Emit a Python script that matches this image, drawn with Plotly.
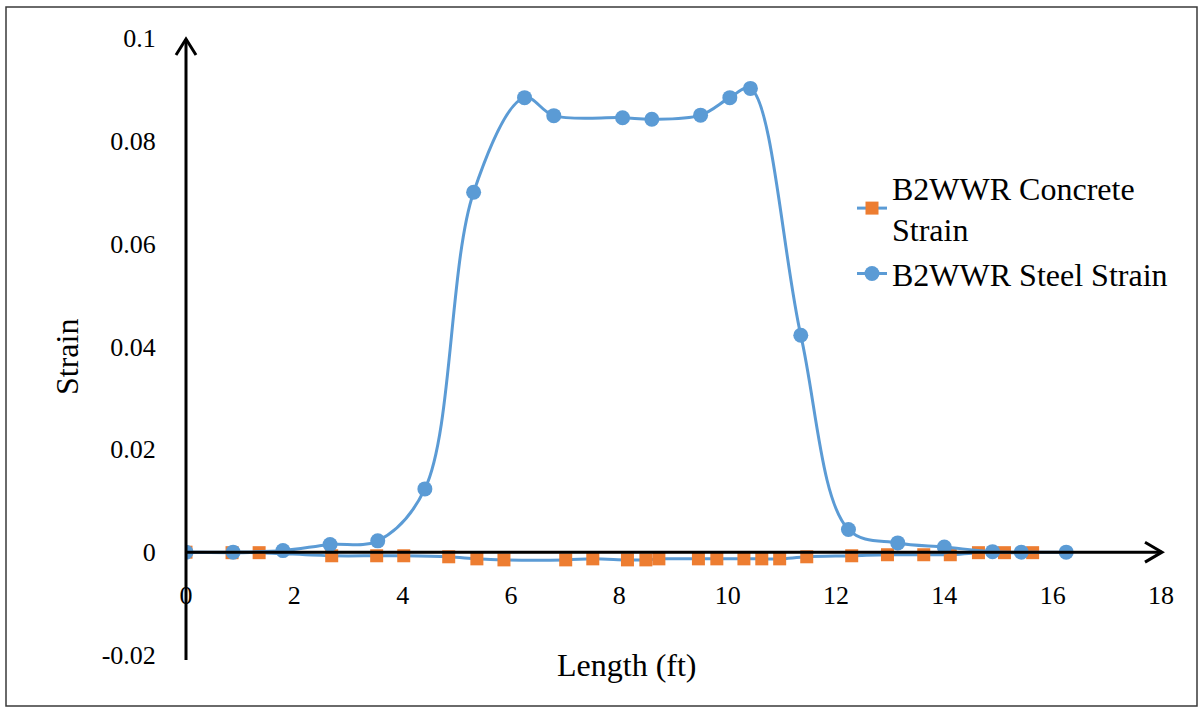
import plotly.graph_objects as go

# Concrete strain readings along the beam
concrete_x = [0, 0.85, 1.35, 2.69, 3.52, 4.02, 4.85, 5.37, 5.87, 7.01, 7.51, 8.15, 8.49, 8.73,
              9.46, 9.80, 10.30, 10.63, 10.96, 11.46, 12.29, 12.95, 13.62, 14.11, 14.63, 15.11, 15.63]
concrete_y = [0, -0.0001, -0.0001, -0.0007, -0.0007, -0.0007, -0.0009, -0.0013, -0.0015, -0.0015,
              -0.0013, -0.0015, -0.0015, -0.0013, -0.0013, -0.0013, -0.0013, -0.0013, -0.0013,
              -0.0009, -0.0007, -0.0005, -0.0005, -0.0005, -0.0001, -0.0001, -0.0001]

# Steel strain readings along the beam
steel_x = [0, 0.87, 1.79, 2.66, 3.54, 4.41, 5.31, 6.25, 6.79, 8.06, 8.60, 9.50, 10.04, 10.42,
           11.35, 12.23, 13.14, 14.00, 14.89, 15.42, 16.25]
steel_y = [0, 0, 0.0003, 0.0015, 0.0022, 0.0123, 0.0700, 0.0884, 0.0849, 0.0845, 0.0842, 0.0850,
           0.0884, 0.0902, 0.0422, 0.0044, 0.0018, 0.0010, 0.0001, 0, 0]

x_ticks = [0, 2, 4, 6, 8, 10, 12, 14, 16, 18]
y_ticks = [-0.02, 0, 0.02, 0.04, 0.06, 0.08, 0.1]
y_ticktext = ["-0.02", "0", "0.02", "0.04", "0.06", "0.08", "0.1"]

X_RANGE = [0, 18]
Y_RANGE = [-0.02, 0.1]

BLUE = "#5B9BD5"
ORANGE = "#ED7D31"
FONT = "Liberation Serif"

W, H = 1203, 710
ML, MR, MT, MB = 186, 42, 38, 55
PW, PH = W - ML - MR, H - MT - MB


def px_x(p):
    return (p - ML) / PW


def px_y(p):
    return (H - MB - p) / PH


def data_y(v):
    return (v - Y_RANGE[0]) / (Y_RANGE[1] - Y_RANGE[0])


def chevron(tip_px, arm_a_px, arm_b_px):
    pts = [arm_a_px, tip_px, arm_b_px]
    coords = [f"{px_x(px):.5f},{px_y(py):.5f}" for px, py in pts]
    return "M " + " L ".join(coords)


fig = go.Figure()

fig.add_trace(go.Scatter(
    x=concrete_x, y=concrete_y, mode="lines+markers",
    name="B2WWR Concrete<br>Strain",
    line=dict(color=BLUE, width=3, shape="spline", smoothing=1),
    marker=dict(symbol="square", size=13, color=ORANGE),
))
fig.add_trace(go.Scatter(
    x=steel_x, y=steel_y, mode="lines+markers",
    name="B2WWR Steel Strain",
    line=dict(color=BLUE, width=3, shape="spline", smoothing=1),
    marker=dict(symbol="circle", size=15, color=BLUE),
))

zero_y = data_y(0)
zero_px = H - MB - zero_y * PH
shapes = [
    # outer frame
    dict(type="rect", xref="paper", yref="paper",
         x0=px_x(6), x1=px_x(1197), y0=px_y(706), y1=px_y(7),
         line=dict(color="#3a3a3a", width=1.5), layer="below"),
    # vertical axis
    dict(type="line", xref="paper", yref="paper", x0=0, x1=0,
         y0=px_y(660), y1=px_y(39), line=dict(color="black", width=3)),
    # horizontal axis at zero strain
    dict(type="line", xref="paper", yref="paper", x0=0, x1=px_x(1162),
         y0=zero_y, y1=zero_y, line=dict(color="black", width=3)),
    # arrow heads
    dict(type="path", xref="paper", yref="paper",
         path=chevron((ML, 39), (ML - 10, 55), (ML + 10, 55)),
         line=dict(color="black", width=3)),
    dict(type="path", xref="paper", yref="paper",
         path=chevron((1162, zero_px), (1145, zero_px - 10), (1145, zero_px + 10)),
         line=dict(color="black", width=3)),
]

annotations = [
    dict(text="Length (ft)", xref="paper", yref="paper", x=px_x(627), y=px_y(685),
         showarrow=False, font=dict(family=FONT, size=32, color="black")),
    dict(text="Strain", xref="paper", yref="paper", x=px_x(47), y=px_y(357),
         textangle=-90, showarrow=False, font=dict(family=FONT, size=32, color="black")),
]

fig.update_layout(
    template="none",
    width=W, height=H,
    margin=dict(l=ML, r=MR, t=MT, b=MB),
    paper_bgcolor="white", plot_bgcolor="white",
    font=dict(family=FONT, color="black"),
    shapes=shapes, annotations=annotations,
    showlegend=True,
    legend=dict(x=px_x(852), y=px_y(160), xanchor="left", yanchor="top",
                font=dict(family=FONT, size=32, color="black"),
                bgcolor="rgba(0,0,0,0)"),
    xaxis=dict(range=X_RANGE, tickvals=x_ticks, ticktext=[str(v) for v in x_ticks],
               showgrid=False, zeroline=False, showline=False,
               anchor="free", position=zero_y,
               ticks="outside", ticklen=20, tickcolor="rgba(0,0,0,0)",
               tickfont=dict(family=FONT, size=26, color="black")),
    yaxis=dict(range=Y_RANGE, tickvals=y_ticks, ticktext=y_ticktext,
               showgrid=False, zeroline=False, showline=False,
               ticks="outside", ticklen=24, tickcolor="rgba(0,0,0,0)",
               tickfont=dict(family=FONT, size=26, color="black")),
)

fig.write_html("out.html")
